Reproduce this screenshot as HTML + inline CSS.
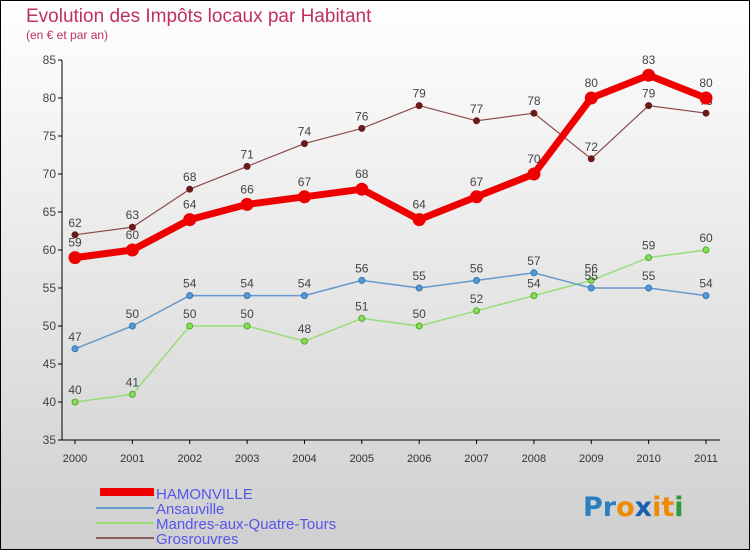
<!DOCTYPE html>
<html><head><meta charset="utf-8"><style>
html,body{margin:0;padding:0;}
body{width:750px;height:550px;overflow:hidden;font-family:"Liberation Sans",sans-serif;}
</style></head><body>
<svg id="chart" width="750" height="550" xmlns="http://www.w3.org/2000/svg">
<defs><linearGradient id="bg" x1="0" y1="0" x2="0" y2="1"><stop offset="0" stop-color="#ffffff"/><stop offset="1" stop-color="#cfcfcf"/></linearGradient></defs>
<rect x="0.5" y="0.5" width="749" height="549" fill="url(#bg)" stroke="#000"/>
<text x="26" y="22" font-size="19" fill="#c0305a">Evolution des Impôts locaux par Habitant</text>
<text x="26" y="39" font-size="12" fill="#c0305a">(en € et par an)</text>
<g id="axes"></g><g id="series"></g>
<g>
<rect x="100" y="488" width="54" height="8" fill="#e00"/>
<text x="156" y="499" font-size="15" fill="#5555ee">HAMONVILLE</text>
<rect x="96" y="507" width="58" height="2" fill="#6699cc"/>
<text x="156" y="514" font-size="15" fill="#5555ee">Ansauville</text>
<rect x="96" y="522" width="58" height="2" fill="#99dd77"/>
<text x="156" y="529" font-size="15" fill="#5555ee">Mandres-aux-Quatre-Tours</text>
<rect x="96" y="537" width="58" height="2" fill="#8b5a5a"/>
<text x="156" y="544" font-size="15" fill="#5555ee">Grosrouvres</text>
</g>
<text x="583" y="516" font-size="27" font-weight="bold" font-family="'DejaVu Sans',sans-serif"><tspan fill="#2a7fc0">Pr</tspan><tspan fill="#f08a00">o</tspan><tspan fill="#1a5fb0">x</tspan><tspan fill="#f08a00">it</tspan><tspan fill="#2a9a3a">i</tspan></text>
</svg>
<script>
const years=[2000,2001,2002,2003,2004,2005,2006,2007,2008,2009,2010,2011];
const yTicks=[35,40,45,50,55,60,65,70,75,80,85];
const hamonville=[59,60,64,66,67,68,64,67,70,80,83,80];
const ansauville=[47,50,54,54,54,56,55,56,57,55,55,54];
const mandres=[40,41,50,50,48,51,50,52,54,56,59,60];
const grosrouvres=[62,63,68,71,74,76,79,77,78,72,79,78];
const NS="http://www.w3.org/2000/svg";
const xS=i=>75+i*(706-75)/(years.length-1);
const yS=v=>440-(v-35)*(380/50);
function mk(tag,attrs,parent){const e=document.createElementNS(NS,tag);for(const k in attrs)e.setAttribute(k,attrs[k]);parent.appendChild(e);return e;}
const ax=document.getElementById('axes');
let l=mk('line',{x1:62,y1:60,x2:62,y2:440,stroke:'#000'},ax);


l=mk('line',{x1:62,y1:440,x2:720,y2:440,stroke:'#000'},ax);


yTicks.forEach(v=>{
  mk('line',{x1:58,y1:yS(v),x2:62,y2:yS(v),stroke:'#000'},ax);
  const t=mk('text',{x:56,y:yS(v)+4,'text-anchor':'end','font-size':12,fill:'#444'},ax);
  t.textContent=v;
  
  
});
years.forEach((y,i)=>{
  mk('line',{x1:xS(i),y1:440,x2:xS(i),y2:444,stroke:'#000'},ax);
  const t=mk('text',{x:xS(i),y:462,'text-anchor':'middle','font-size':11,fill:'#333'},ax);
  t.textContent=y;
  
  
});
const sg=document.getElementById('series');
function series(name,data,color,w,r,dot,stroke){
  const g=mk('g',{},sg);
  
  
  const p=mk('polyline',{points:data.map((v,i)=>xS(i)+','+yS(v)).join(' '),fill:'none',stroke:color,'stroke-width':w,'stroke-linejoin':'round'},g);
  
  
  data.forEach((v,i)=>{
    const c=mk('circle',{cx:xS(i),cy:yS(v),r:r,fill:dot,stroke:stroke,'stroke-width':1},g);
    
    
    const t=mk('text',{x:xS(i),y:yS(v)-r-5,'text-anchor':'middle','font-size':12,fill:'#444'},g);
    t.textContent=v;
    
    
  });
}
series('grosrouvres',grosrouvres,'#8b4a4a',1.2,3,'#6b1a1a','#6b1a1a');
series('mandres',mandres,'#99dd77',1.5,3,'#88dd55','#55aa33');
series('ansauville',ansauville,'#6699cc',1.5,3,'#5599dd','#3377aa');
series('hamonville',hamonville,'#ee0000',7,6,'#ee0000','#ee0000');
</script>
</body></html>
